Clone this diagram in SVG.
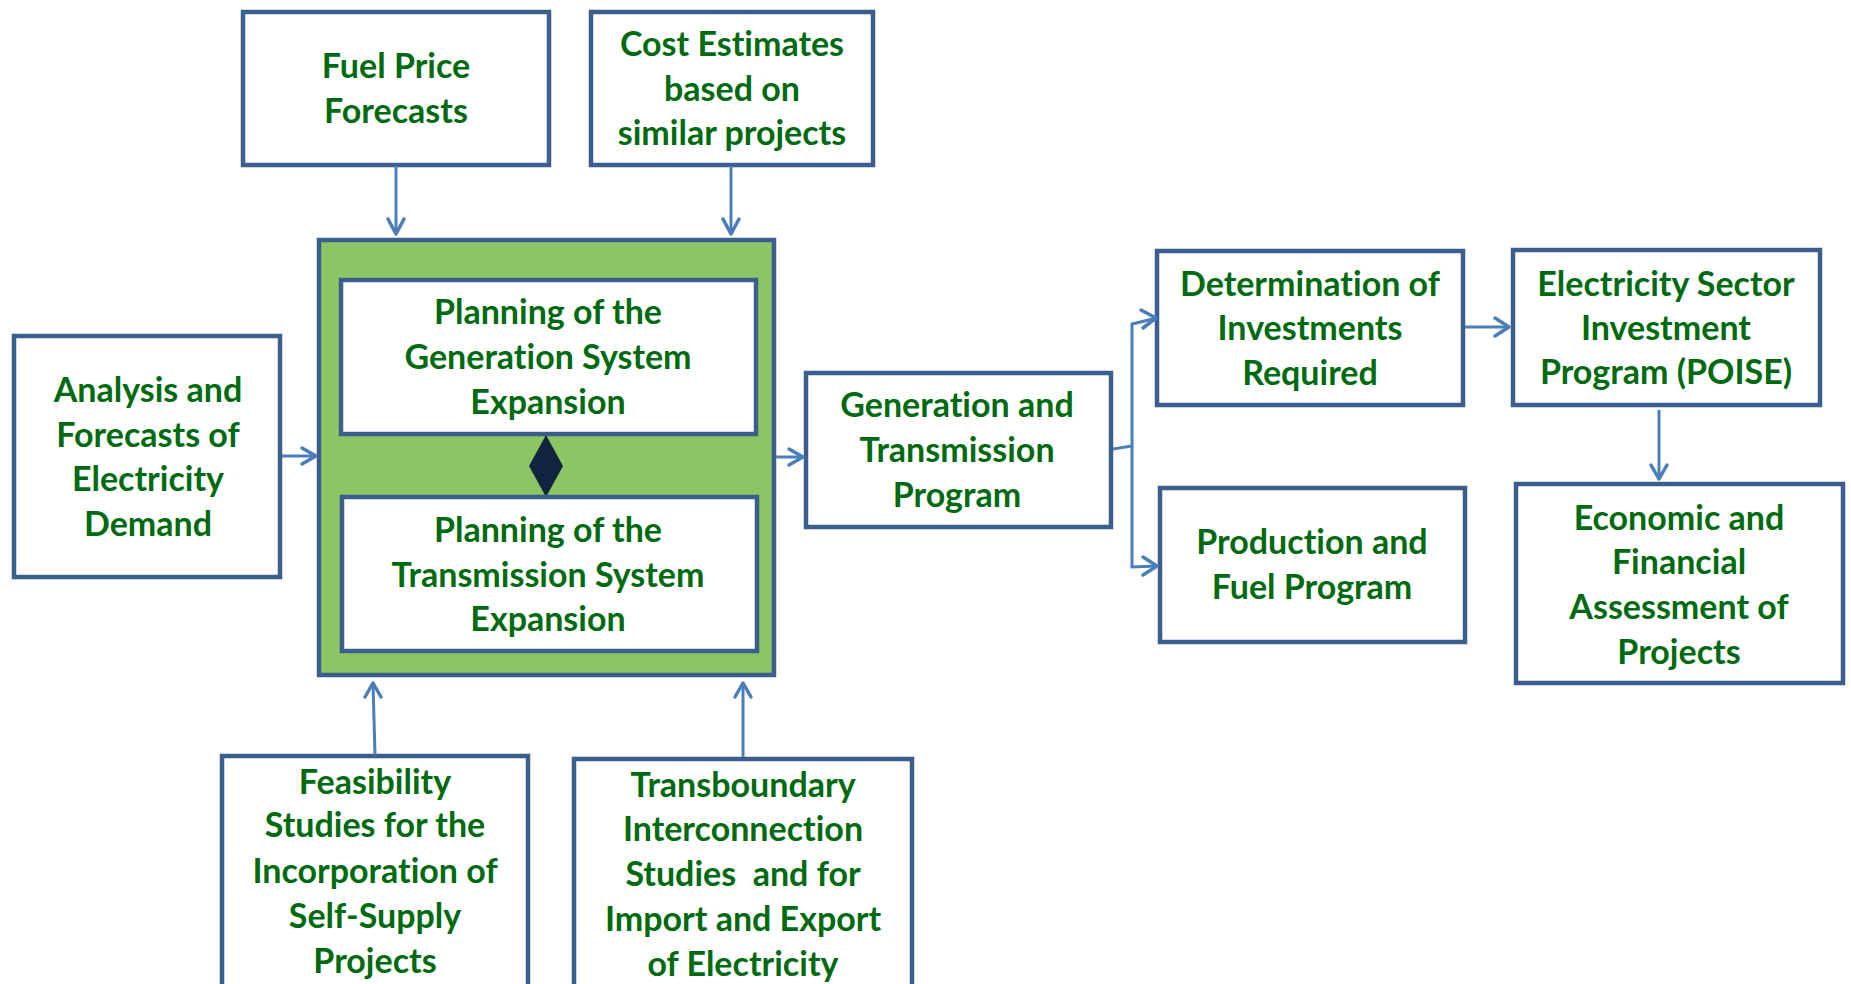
<svg xmlns="http://www.w3.org/2000/svg" width="1851" height="984" viewBox="0 0 1851 984">
<style>
.box{fill:#ffffff;stroke:#3B5E8C;stroke-width:4.5}
.t{font-family:Lato,"Liberation Sans",sans-serif;font-weight:bold;font-size:34px;fill:#006A10;text-anchor:middle;white-space:pre;font-variant-ligatures:none;font-feature-settings:"liga" 0}
.c{fill:none;stroke:#4A7EBB;stroke-width:3}
.ah{fill:none;stroke:#4A7EBB;stroke-width:3.5;stroke-linecap:round;stroke-linejoin:round}
</style>
<rect width="1851" height="984" fill="#ffffff"/>
<g id="fuel">
<rect class="box" x="243" y="12" width="306" height="153"/>
<text class="t" x="396" y="78">Fuel Price</text>
<text class="t" x="396" y="123">Forecasts</text>
</g>
<g id="cost">
<rect class="box" x="591" y="12" width="282" height="153"/>
<text class="t" x="732" y="56">Cost Estimates</text>
<text class="t" x="732" y="101">based on</text>
<text class="t" x="732" y="145">similar projects</text>
</g>
<g id="planning">
<rect x="319" y="240" width="455" height="435" fill="#8CC563" stroke="#3B5E8C" stroke-width="4.5"/>
</g>
<g id="gen">
<rect class="box" x="341" y="280" width="415" height="154"/>
<text class="t" x="548" y="324">Planning of the</text>
<text class="t" x="548" y="369">Generation System</text>
<text class="t" x="548" y="414">Expansion</text>
</g>
<g id="diamond">
<polygon points="546,435 563,466 546,497 529,466" fill="#11233F"/>
</g>
<g id="trans">
<rect class="box" x="342" y="497" width="415" height="154"/>
<text class="t" x="548" y="542">Planning of the</text>
<text class="t" x="548" y="587">Transmission System</text>
<text class="t" x="548" y="631">Expansion</text>
</g>
<g id="analysis">
<rect class="box" x="14" y="336" width="266" height="241"/>
<text class="t" x="148" y="402">Analysis and</text>
<text class="t" x="148" y="447">Forecasts of</text>
<text class="t" x="148" y="491">Electricity</text>
<text class="t" x="148" y="536">Demand</text>
</g>
<g id="gtp">
<rect class="box" x="806" y="373" width="305" height="154"/>
<text class="t" x="957" y="417">Generation and</text>
<text class="t" x="957" y="462">Transmission</text>
<text class="t" x="957" y="507">Program</text>
</g>
<g id="determination">
<rect class="box" x="1157" y="251" width="306" height="154"/>
<text class="t" x="1310" y="296">Determination of</text>
<text class="t" x="1310" y="340">Investments</text>
<text class="t" x="1310" y="385">Required</text>
</g>
<g id="poise">
<rect class="box" x="1513" y="250" width="307" height="155"/>
<text class="t" x="1666" y="296">Electricity Sector</text>
<text class="t" x="1666" y="340">Investment</text>
<text class="t" x="1666" y="384">Program (POISE)</text>
</g>
<g id="production">
<rect class="box" x="1160" y="488" width="305" height="154"/>
<text class="t" x="1312" y="554">Production and</text>
<text class="t" x="1312" y="599">Fuel Program</text>
</g>
<g id="economic">
<rect class="box" x="1516" y="484" width="327" height="199"/>
<text class="t" x="1679" y="530">Economic and</text>
<text class="t" x="1679" y="574">Financial</text>
<text class="t" x="1679" y="619">Assessment of</text>
<text class="t" x="1679" y="664">Projects</text>
</g>
<g id="feasibility">
<rect class="box" x="222" y="756" width="306" height="240"/>
<text class="t" x="375" y="794">Feasibility</text>
<text class="t" x="375" y="837">Studies for the</text>
<text class="t" x="375" y="883">Incorporation of</text>
<text class="t" x="375" y="928">Self-Supply</text>
<text class="t" x="375" y="973">Projects</text>
</g>
<g id="transboundary">
<rect class="box" x="574" y="759" width="338" height="240"/>
<text class="t" x="743" y="797">Transboundary</text>
<text class="t" x="743" y="841">Interconnection</text>
<text class="t" x="743" y="886">Studies  and for</text>
<text class="t" x="743" y="931">Import and Export</text>
<text class="t" x="743" y="976">of Electricity</text>
</g>
<g id="connectors">
<line class="c" x1="396" y1="166" x2="396" y2="234"/>
<polyline class="ah" points="388,219 396,234 404,219"/>
<line class="c" x1="731" y1="166" x2="731" y2="234"/>
<polyline class="ah" points="723,219 731,234 739,219"/>
<line class="c" x1="282" y1="456" x2="316" y2="456"/>
<polyline class="ah" points="302,448 316,456 302,464"/>
<line class="c" x1="776" y1="457" x2="803" y2="457"/>
<polyline class="ah" points="789,449 803,457 789,465"/>
<polyline class="c" points="1113,449 1132,446 1132,324 1157,318"/>
<polyline class="ah" points="1141,310 1156,318 1143,328"/>
<polyline class="c" points="1132,446 1132,567 1157,566"/>
<polyline class="ah" points="1143,557 1157,566 1143,575"/>
<line class="c" x1="1465" y1="327" x2="1509" y2="327"/>
<polyline class="ah" points="1495,318 1509,327 1495,336"/>
<line class="c" x1="1659" y1="410" x2="1659" y2="479"/>
<polyline class="ah" points="1651,465 1659,479 1667,465"/>
<line class="c" x1="375" y1="755" x2="373" y2="683"/>
<polyline class="ah" points="365,697 373,683 381,697"/>
<line class="c" x1="743" y1="757" x2="743" y2="683"/>
<polyline class="ah" points="735,697 743,683 751,697"/>
</g>
</svg>
